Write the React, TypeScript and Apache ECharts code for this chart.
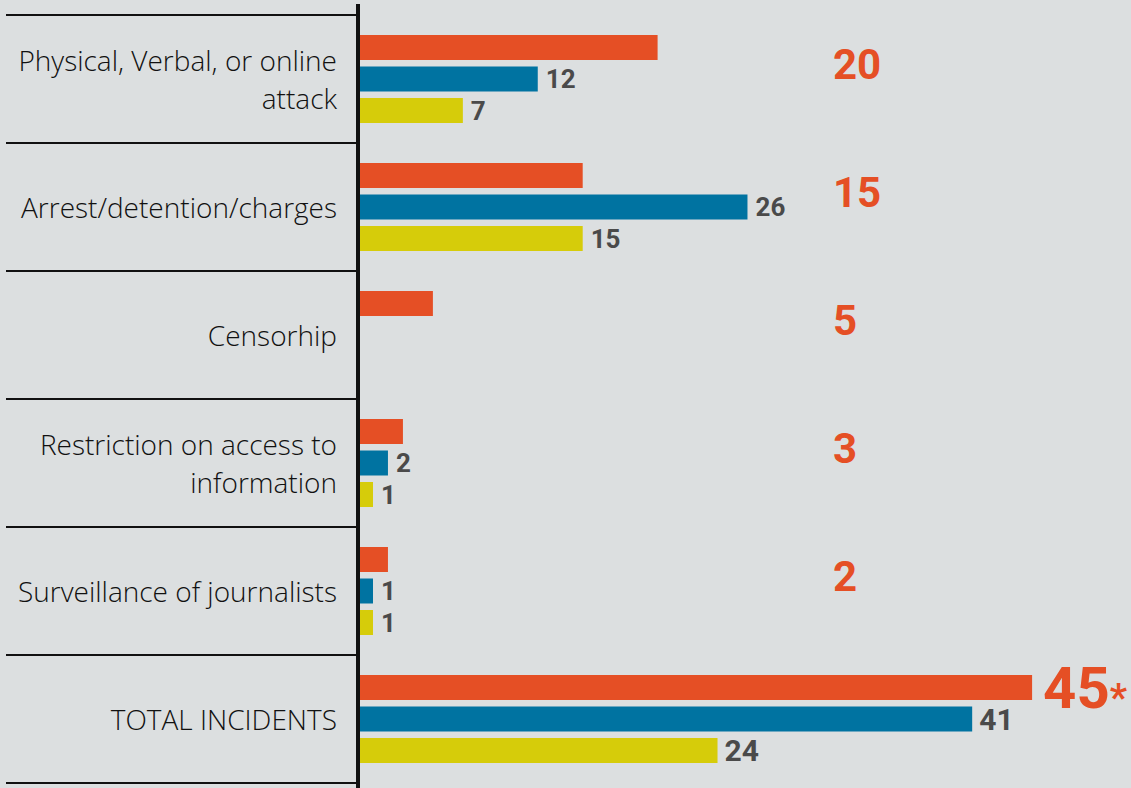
import React, { useEffect, useRef } from "react";
import * as echarts from "echarts";

// ---- data ----
const categories: string[] = [
  "Physical, Verbal, or online\nattack",
  "Arrest/detention/charges",
  "Censorhip",
  "Restriction on access to\ninformation",
  "Surveillance of journalists",
  "TOTAL INCIDENTS",
];
const seriesNames: string[] = ["Series A", "Series B", "Series C"];
const orangeValues: number[] = [20, 15, 5, 3, 2, 45];
const blueValues: number[] = [12, 26, 0, 2, 1, 41];
const yellowValues: number[] = [7, 15, 0, 1, 1, 24];
const totalSuffix = "*";

// ---- style ----
const BG = "#dcdfe0";
const ORANGE = "#e54f25";
const BLUE = "#0073a1";
const YELLOW = "#d6cc0a";
const GRAY = "#4a4a4a";
const INK = "#111111";

const GRID_LEFT = 358;
const LABEL_COL_X = 833;

export default function App() {
  const ref = useRef<HTMLDivElement>(null);

  useEffect(() => {
    if (!ref.current) return;
    const chart = echarts.init(ref.current, undefined, { renderer: "svg" });
    const last = categories.length - 1;

    const grayLabel = {
      show: true,
      position: "right",
      distance: 8,
      fontFamily: "Roboto",
      fontWeight: "bold",
      fontSize: 26,
      color: GRAY,
      formatter: (p: any) => (p.value ? String(p.value) : ""),
    };

    const grayData = (arr: number[]) =>
      arr.map((v, i) =>
        i === last ? { value: v, label: { fontSize: 30, distance: 7 } } : v
      );

    const orangeData = orangeValues.map((v, i) =>
      i === last
        ? {
            value: v,
            label: {
              position: "right",
              distance: 11,
              align: "left",
              verticalAlign: "middle",
              formatter: `{a|${v}}{b|${totalSuffix}}`,
              rich: {
                a: {
                  fontFamily: "Roboto",
                  fontWeight: "bold",
                  fontSize: 58,
                  color: ORANGE,
                },
                b: {
                  fontFamily: "Roboto",
                  fontWeight: "bold",
                  fontSize: 38,
                  color: ORANGE,
                  verticalAlign: "bottom",
                },
              },
            },
          }
        : v
    );

    chart.setOption({
      animation: false,
      backgroundColor: BG,
      grid: { left: GRID_LEFT, right: 24, top: 15, bottom: 5, containLabel: false },
      xAxis: {
        type: "value",
        min: 0,
        max: 50,
        show: false,
      },
      yAxis: {
        type: "category",
        data: categories,
        inverse: true,
        axisLine: { show: false },
        axisTick: {
          show: true,
          length: GRID_LEFT - 6,
          lineStyle: { color: INK, width: 2 },
        },
        axisLabel: {
          margin: 21,
          fontFamily: "Open Sans",
          fontWeight: 300,
          fontSize: 28,
          lineHeight: 38,
          color: INK,
          align: "right",
        },
        splitLine: { show: false },
      },
      graphic: [
        {
          type: "rect",
          z: 100,
          shape: { x: 356, y: 4, width: 4, height: 784 },
          style: { fill: INK },
        },
      ],
      series: [
        {
          name: seriesNames[0],
          type: "bar",
          data: orangeData,
          barWidth: 25,
          barGap: "26%",
          itemStyle: { color: ORANGE },
          label: {
            show: true,
            position: [LABEL_COL_X - GRID_LEFT, 29],
            align: "left",
            verticalAlign: "middle",
            fontFamily: "Roboto",
            fontWeight: "bold",
            fontSize: 42,
            color: ORANGE,
          },
        },
        {
          name: seriesNames[1],
          type: "bar",
          data: grayData(blueValues),
          barWidth: 25,
          barGap: "26%",
          itemStyle: { color: BLUE },
          label: grayLabel,
        },
        {
          name: seriesNames[2],
          type: "bar",
          data: grayData(yellowValues),
          barWidth: 25,
          barGap: "26%",
          itemStyle: { color: YELLOW },
          label: grayLabel,
        },
      ],
    });

    return () => chart.dispose();
  }, []);

  return (
    <div
      ref={ref}
      style={{
        position: "fixed",
        left: 0,
        top: 0,
        width: 1131,
        height: 788,
        background: BG,
      }}
    />
  );
}
